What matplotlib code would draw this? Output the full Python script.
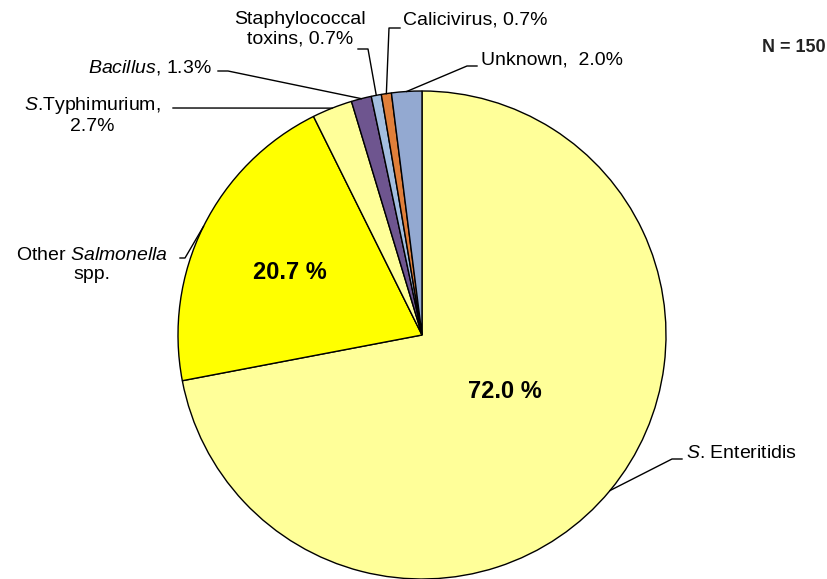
import numpy as np
import matplotlib
matplotlib.use("Agg")
from matplotlib import pyplot as plt

# outbreak counts by agent (N = 150)
agents = ["S. Enteritidis", "Other Salmonella spp.", "S.Typhimurium", "Bacillus",
          "Staphylococcal toxins", "Calicivirus", "Unknown"]
counts = [108, 31, 4, 2, 1, 1, 3]
colors = ["#FFFF99", "#FFFF00", "#FFFF99", "#6E558F", "#A3BEE0", "#E07F3A", "#93A9D1"]

labels = [r"$\mathit{S}$. Enteritidis",
          "Other $\\mathit{Salmonella}$\nspp.",
          "$\\mathit{S}$.Typhimurium,\n2.7%",
          "$\\mathit{Bacillus}$, 1.3%",
          "Staphylococcal\ntoxins, 0.7%",
          "Calicivirus, 0.7%",
          "Unknown,  2.0%"]

plt.rcParams["font.family"] = ["Liberation Sans", "DejaVu Sans"]
plt.rcParams["mathtext.fontset"] = "custom"
plt.rcParams["mathtext.rm"] = "Liberation Sans"
plt.rcParams["mathtext.it"] = "Liberation Sans:italic"

W, H = 828, 579
fig = plt.figure(figsize=(8.28, 5.79), dpi=100)
ax = fig.add_axes([0, 0, 1, 1])

cx, cy, r = 422, H - 335, 244
wedges, _ = ax.pie(counts, colors=colors, startangle=90, counterclock=False,
                   center=(cx, cy), radius=r,
                   wedgeprops=dict(edgecolor="black", linewidth=1))

# label layout: (text x, text y, ha, elbow x, elbow y, end x) in pixels from top-left
layout = [
    (686, 453, "left", 672, 459, 682),
    (92, 265, "center", 185, 258, 180),
    (92, 115, "center", 173, 108, 173),
    (212, 68, "right", 228, 71, 218),
    (300, 29, "center", 368, 49, 358),
    (403, 20, "left", 389, 28, 400),
    (481, 60, "left", 467, 66, 477),
]

for w, lab, (tx, ty, ha, ex, ey, endx) in zip(wedges, labels, layout):
    mid = np.deg2rad((w.theta1 + w.theta2) / 2)
    px, py = cx + r * np.cos(mid), cy + r * np.sin(mid)
    ax.plot([px, ex, endx], [py, H - ey, H - ey], color="black", lw=1)
    ax.text(tx, H - ty, lab, ha=ha, va="center",
            fontsize=14, multialignment="center", linespacing=1.2)

pct = [c / sum(counts) * 100 for c in counts]
ax.text(505, H - 391, f"{pct[0]:.1f} %", ha="center", va="center",
        fontsize=17, fontweight="bold")
ax.text(290, H - 273, f"{pct[1]:.1f} %", ha="center", va="center",
        fontsize=17, fontweight="bold")
ax.text(794, H - 48, f"N = {sum(counts)}", ha="center", va="center",
        fontsize=13, fontweight="bold", color="#222222")

ax.set_xlim(0, W)
ax.set_ylim(0, H)
ax.set_aspect("equal")
ax.axis("off")

fig.savefig("out.png", dpi=100)
